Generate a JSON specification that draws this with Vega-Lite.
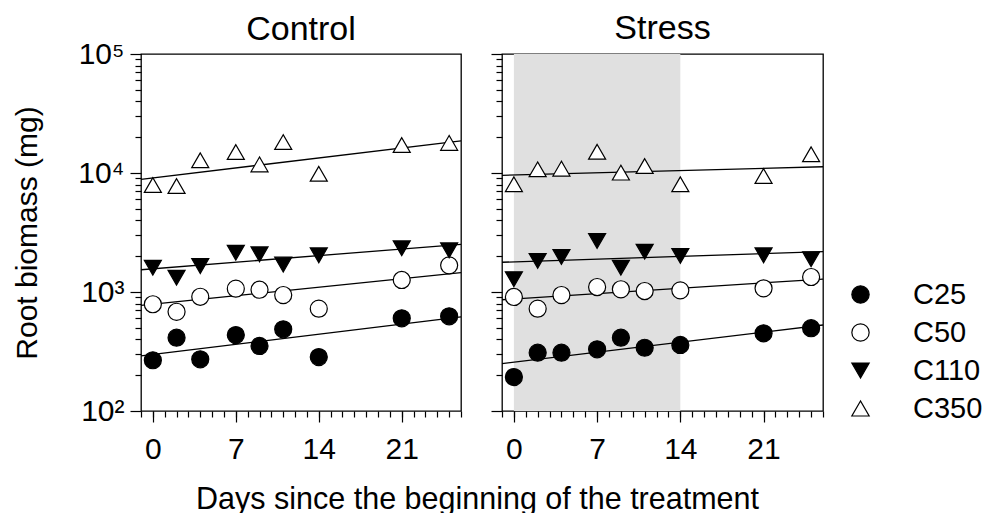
{
  "$schema": "https://vega.github.io/schema/vega-lite/v6.json",
  "padding": {"left": 12, "top": 11, "right": 0, "bottom": 0},
  "background": "white",
  "config": {
    "font": "Liberation Sans",
    "view": {"stroke": "black", "strokeWidth": 1.3},
    "axis": {"tickColor": "black", "labelColor": "black", "titleColor": "black", "titleFontWeight": "normal", "grid": false, "domain": false, "tickWidth": 1.2, "labelFont": "Liberation Sans", "titleFont": "Liberation Sans"},
    "title": {"fontWeight": "normal", "fontSize": 34, "color": "black", "anchor": "middle", "font": "Liberation Sans"},
    "legend": {"title": null, "orient": "none", "legendX": 705, "legendY": 226, "labelFontSize": 29, "labelColor": "black", "labelOffset": 38, "rowPadding": 8, "symbolSize": 300, "symbolStrokeWidth": 1.2, "padding": 0, "labelFont": "Liberation Sans"}
  },
  "datasets": {
    "pts": [
      {"panel": "Control", "series": "C25", "day": 0, "value": 267},
      {"panel": "Control", "series": "C25", "day": 2, "value": 413},
      {"panel": "Control", "series": "C25", "day": 4, "value": 272},
      {"panel": "Control", "series": "C25", "day": 7, "value": 435},
      {"panel": "Control", "series": "C25", "day": 9, "value": 352},
      {"panel": "Control", "series": "C25", "day": 11, "value": 486},
      {"panel": "Control", "series": "C25", "day": 14, "value": 284},
      {"panel": "Control", "series": "C25", "day": 21, "value": 601},
      {"panel": "Control", "series": "C25", "day": 25, "value": 625},
      {"panel": "Control", "series": "C50", "day": 0, "value": 789},
      {"panel": "Control", "series": "C50", "day": 2, "value": 682},
      {"panel": "Control", "series": "C50", "day": 4, "value": 912},
      {"panel": "Control", "series": "C50", "day": 7, "value": 1066},
      {"panel": "Control", "series": "C50", "day": 9, "value": 1045},
      {"panel": "Control", "series": "C50", "day": 11, "value": 943},
      {"panel": "Control", "series": "C50", "day": 14, "value": 724},
      {"panel": "Control", "series": "C50", "day": 21, "value": 1262},
      {"panel": "Control", "series": "C50", "day": 25, "value": 1675},
      {"panel": "Control", "series": "C110", "day": 0, "value": 1600},
      {"panel": "Control", "series": "C110", "day": 2, "value": 1318},
      {"panel": "Control", "series": "C110", "day": 4, "value": 1652},
      {"panel": "Control", "series": "C110", "day": 7, "value": 2138},
      {"panel": "Control", "series": "C110", "day": 9, "value": 2073},
      {"panel": "Control", "series": "C110", "day": 11, "value": 1700},
      {"panel": "Control", "series": "C110", "day": 14, "value": 2034},
      {"panel": "Control", "series": "C110", "day": 21, "value": 2330},
      {"panel": "Control", "series": "C110", "day": 25, "value": 2240},
      {"panel": "Control", "series": "C350", "day": 0, "value": 7925},
      {"panel": "Control", "series": "C350", "day": 2, "value": 7780},
      {"panel": "Control", "series": "C350", "day": 4, "value": 12800},
      {"panel": "Control", "series": "C350", "day": 7, "value": 15000},
      {"panel": "Control", "series": "C350", "day": 9, "value": 11800},
      {"panel": "Control", "series": "C350", "day": 11, "value": 18200},
      {"panel": "Control", "series": "C350", "day": 14, "value": 9860},
      {"panel": "Control", "series": "C350", "day": 21, "value": 17200},
      {"panel": "Control", "series": "C350", "day": 25, "value": 17900},
      {"panel": "Stress", "series": "C25", "day": 0, "value": 193},
      {"panel": "Stress", "series": "C25", "day": 2, "value": 309},
      {"panel": "Stress", "series": "C25", "day": 4, "value": 309},
      {"panel": "Stress", "series": "C25", "day": 7, "value": 330},
      {"panel": "Stress", "series": "C25", "day": 9, "value": 413},
      {"panel": "Stress", "series": "C25", "day": 11, "value": 340},
      {"panel": "Stress", "series": "C25", "day": 14, "value": 359},
      {"panel": "Stress", "series": "C25", "day": 21, "value": 450},
      {"panel": "Stress", "series": "C25", "day": 25, "value": 496},
      {"panel": "Stress", "series": "C50", "day": 0, "value": 908},
      {"panel": "Stress", "series": "C50", "day": 2, "value": 724},
      {"panel": "Stress", "series": "C50", "day": 4, "value": 943},
      {"panel": "Stress", "series": "C50", "day": 7, "value": 1101},
      {"panel": "Stress", "series": "C50", "day": 9, "value": 1054},
      {"panel": "Stress", "series": "C50", "day": 11, "value": 1019},
      {"panel": "Stress", "series": "C50", "day": 14, "value": 1033},
      {"panel": "Stress", "series": "C50", "day": 21, "value": 1074},
      {"panel": "Stress", "series": "C50", "day": 25, "value": 1337},
      {"panel": "Stress", "series": "C110", "day": 0, "value": 1280},
      {"panel": "Stress", "series": "C110", "day": 2, "value": 1824},
      {"panel": "Stress", "series": "C110", "day": 4, "value": 1969},
      {"panel": "Stress", "series": "C110", "day": 7, "value": 2684},
      {"panel": "Stress", "series": "C110", "day": 9, "value": 1600},
      {"panel": "Stress", "series": "C110", "day": 11, "value": 2182},
      {"panel": "Stress", "series": "C110", "day": 14, "value": 2010},
      {"panel": "Stress", "series": "C110", "day": 21, "value": 2034},
      {"panel": "Stress", "series": "C110", "day": 25, "value": 1885},
      {"panel": "Stress", "series": "C350", "day": 0, "value": 8040},
      {"panel": "Stress", "series": "C350", "day": 2, "value": 10740},
      {"panel": "Stress", "series": "C350", "day": 4, "value": 10870},
      {"panel": "Stress", "series": "C350", "day": 7, "value": 15100},
      {"panel": "Stress", "series": "C350", "day": 9, "value": 10070},
      {"panel": "Stress", "series": "C350", "day": 11, "value": 11450},
      {"panel": "Stress", "series": "C350", "day": 14, "value": 8040},
      {"panel": "Stress", "series": "C350", "day": 21, "value": 9440},
      {"panel": "Stress", "series": "C350", "day": 25, "value": 14360}
    ],
    "fits": [
      {"panel": "Control", "series": "C25", "day": -1, "fit": 290},
      {"panel": "Control", "series": "C25", "day": 26, "fit": 617},
      {"panel": "Control", "series": "C50", "day": -1, "fit": 773},
      {"panel": "Control", "series": "C50", "day": 26, "fit": 1452},
      {"panel": "Control", "series": "C110", "day": -1, "fit": 1538},
      {"panel": "Control", "series": "C110", "day": 26, "fit": 2518},
      {"panel": "Control", "series": "C350", "day": -1, "fit": 8850},
      {"panel": "Control", "series": "C350", "day": 26, "fit": 18600},
      {"panel": "Stress", "series": "C25", "day": -1, "fit": 250},
      {"panel": "Stress", "series": "C25", "day": 26, "fit": 528},
      {"panel": "Stress", "series": "C50", "day": -1, "fit": 861},
      {"panel": "Stress", "series": "C50", "day": 26, "fit": 1285},
      {"panel": "Stress", "series": "C110", "day": -1, "fit": 1778},
      {"panel": "Stress", "series": "C110", "day": 26, "fit": 2182},
      {"panel": "Stress", "series": "C350", "day": -1, "fit": 9550},
      {"panel": "Stress", "series": "C350", "day": 26, "fit": 11290}
    ],
    "band": [
      {"panel": "Stress", "start": 0, "end": 14}
    ]
  },
  "title": {"text": "Days since the beginning of the treatment", "orient": "bottom", "anchor": "middle", "fontSize": 30.5, "offset": 20, "dx": -20},
  "spacing": 24,
  "hconcat": [
    {
      "width": 320,
      "height": 357,
      "title": {"text": "Control", "offset": -8},
      "resolve": {"axis": {"x": "independent", "y": "independent"}},
      "layer": [
        {
          "data": {"name": "band"},
          "transform": [{"filter": "datum.panel == 'Control'"}],
          "mark": {"type": "rect", "color": "#e0e0e0"},
          "encoding": {
            "x": {"field": "start", "type": "quantitative", "scale": {"domain": [-1, 26], "nice": false, "zero": false}, "axis": {"orient": "bottom", "values": [-1,0,1,2,3,4,5,6,7,8,9,10,11,12,13,14,15,16,17,18,19,20,21,22,23,24,25,26], "tickSize": 6, "labels": false, "title": null}},
            "x2": {"field": "end"}
          }
        },
        {
          "data": {"name": "fits"},
          "transform": [{"filter": "datum.panel == 'Control'"}],
          "mark": {"type": "line", "color": "black", "strokeWidth": 1.3},
          "encoding": {
            "x": {"field": "day", "type": "quantitative", "scale": {"domain": [-1, 26], "nice": false, "zero": false}, "axis": null},
            "y": {"field": "fit", "type": "quantitative", "scale": {"type": "log", "domain": [100, 100000], "nice": false}, "axis": {"orient": "left", "values": [200,300,400,500,600,700,800,900,2000,3000,4000,5000,6000,7000,8000,9000,20000,30000,40000,50000,60000,70000,80000,90000], "tickSize": 6, "labels": false, "title": null}},
            "detail": {"field": "series"}
          }
        },
        {
          "data": {"name": "pts"},
          "transform": [{"filter": "datum.panel == 'Control'"}],
          "mark": {"type": "point", "filled": true, "size": 290, "opacity": 1},
          "encoding": {
            "x": {"field": "day", "type": "quantitative", "scale": {"domain": [-1, 26], "nice": false, "zero": false}, "axis": {"orient": "bottom", "values": [0, 7, 14, 21], "tickSize": 11, "labelFontSize": 30, "labelPadding": 12, "title": null}},
            "y": {"field": "value", "type": "quantitative", "scale": {"type": "log", "domain": [100, 100000], "nice": false}, "axis": {"orient": "left", "values": [100, 1000, 10000, 100000], "tickSize": 11, "labelFontSize": 30, "labelPadding": 6, "labelExpr": "datum.value == 100 ? '10²' : datum.value == 1000 ? '10³' : datum.value == 10000 ? '10⁴' : '10⁵'", "title": "Root biomass (mg)", "titleFontSize": 30, "titlePadding": 35}},
            "shape": {"field": "series", "type": "nominal", "scale": {"domain": ["C25", "C50", "C110", "C350"], "range": ["circle", "circle", "triangle-down", "triangle-up"]}, "legend": {"encode": {"symbols": {"update": {"stroke": {"value": "black"}, "strokeWidth": {"value": 1.2}}}}}},
            "fill": {"field": "series", "type": "nominal", "scale": {"domain": ["C25", "C50", "C110", "C350"], "range": ["black", "white", "black", "white"]}, "legend": {"encode": {"symbols": {"update": {"stroke": {"value": "black"}, "strokeWidth": {"value": 1.2}}}}}},
            "stroke": {"value": "black"},
            "strokeWidth": {"value": 1.2}
          }
        }
      ]
    },
    {
      "width": 321,
      "height": 357,
      "title": {"text": "Stress", "offset": 7},
      "resolve": {"axis": {"x": "independent", "y": "independent"}},
      "layer": [
        {
          "data": {"name": "band"},
          "transform": [{"filter": "datum.panel == 'Stress'"}],
          "mark": {"type": "rect", "color": "#e0e0e0"},
          "encoding": {
            "x": {"field": "start", "type": "quantitative", "scale": {"domain": [-1, 26], "nice": false, "zero": false}, "axis": {"orient": "bottom", "values": [-1,0,1,2,3,4,5,6,7,8,9,10,11,12,13,14,15,16,17,18,19,20,21,22,23,24,25,26], "tickSize": 6, "labels": false, "title": null}},
            "x2": {"field": "end"}
          }
        },
        {
          "data": {"name": "fits"},
          "transform": [{"filter": "datum.panel == 'Stress'"}],
          "mark": {"type": "line", "color": "black", "strokeWidth": 1.3},
          "encoding": {
            "x": {"field": "day", "type": "quantitative", "scale": {"domain": [-1, 26], "nice": false, "zero": false}, "axis": null},
            "y": {"field": "fit", "type": "quantitative", "scale": {"type": "log", "domain": [100, 100000], "nice": false}, "axis": {"orient": "left", "values": [200,300,400,500,600,700,800,900,2000,3000,4000,5000,6000,7000,8000,9000,20000,30000,40000,50000,60000,70000,80000,90000], "tickSize": 6, "labels": false, "title": null}},
            "detail": {"field": "series"}
          }
        },
        {
          "data": {"name": "pts"},
          "transform": [{"filter": "datum.panel == 'Stress'"}],
          "mark": {"type": "point", "filled": true, "size": 290, "opacity": 1},
          "encoding": {
            "x": {"field": "day", "type": "quantitative", "scale": {"domain": [-1, 26], "nice": false, "zero": false}, "axis": {"orient": "bottom", "values": [0, 7, 14, 21], "tickSize": 11, "labelFontSize": 30, "labelPadding": 12, "title": null}},
            "y": {"field": "value", "type": "quantitative", "scale": {"type": "log", "domain": [100, 100000], "nice": false}, "axis": {"orient": "left", "values": [100, 1000, 10000, 100000], "tickSize": 11, "labels": false, "title": null}},
            "shape": {"field": "series", "type": "nominal", "scale": {"domain": ["C25", "C50", "C110", "C350"], "range": ["circle", "circle", "triangle-down", "triangle-up"]}, "legend": {"encode": {"symbols": {"update": {"stroke": {"value": "black"}, "strokeWidth": {"value": 1.2}}}}}},
            "fill": {"field": "series", "type": "nominal", "scale": {"domain": ["C25", "C50", "C110", "C350"], "range": ["black", "white", "black", "white"]}, "legend": {"encode": {"symbols": {"update": {"stroke": {"value": "black"}, "strokeWidth": {"value": 1.2}}}}}},
            "stroke": {"value": "black"},
            "strokeWidth": {"value": 1.2}
          }
        }
      ]
    }
  ]
}
